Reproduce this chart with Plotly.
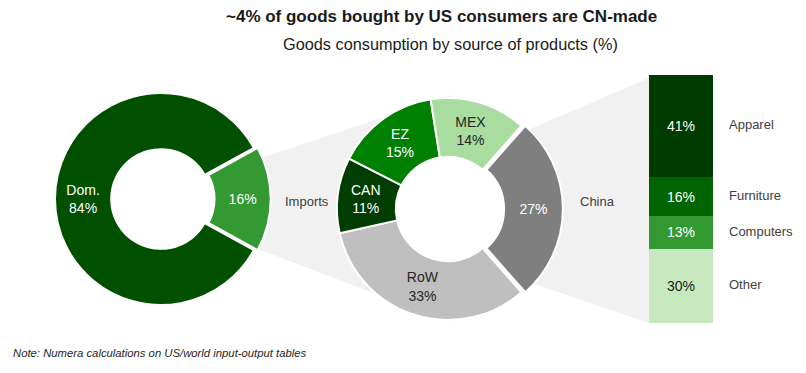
import plotly.graph_objects as go

# ---------------- data ----------------
left_labels = ["Imports", "Dom."]
left_values = [16, 84]
left_colors = ["#339933", "#005000"]
left_text_colors = ["white", "white"]

mid_labels = ["China", "RoW", "CAN", "EZ", "MEX"]
mid_values = [27, 33, 11, 15, 14]
mid_colors = ["#7f7f7f", "#bfbfbf", "#003d00", "#008000", "#a9dd9f"]
mid_text_colors = ["white", "#262626", "white", "white", "#262626"]

bar_labels = ["Apparel", "Furniture", "Computers", "Other"]  # top to bottom
bar_values = [41, 16, 13, 30]
bar_colors = ["#003c00", "#006400", "#339933", "#c8e8c0"]
bar_text_colors = ["white", "white", "white", "#1a1a1a"]

outside_labels = ["Imports", "China"]

title = "~4% of goods bought by US consumers are CN-made"
subtitle = "Goods consumption by source of products (%)"
note = "Note: Numera calculations on US/world input-output tables"

# ---------------- layout helpers ----------------
W, H = 806, 373
FONT = "Liberation Sans, Arial, sans-serif"


def px(x):
    return x / W


def py(y):
    return 1 - y / H


def dom(cx, cy, half):
    return dict(x=[px(cx - half), px(cx + half)], y=[py(cy + half), py(cy - half)])


PULL = 0.035
HOLE = 0.47


def pie_text(labels, values):
    return [f"{v}%" if lab in outside_labels else f"{lab}<br>{v}%" for lab, v in zip(labels, values)]


def rotation_center_right(values):
    # first slice centred at 3 o'clock
    return 90 - values[0] / sum(values) * 360 / 2


fig = go.Figure()

# left donut
LCX, LCY, LR = 161, 199, 106
fig.add_trace(go.Pie(
    labels=left_labels, values=left_values, sort=False, direction="clockwise",
    rotation=rotation_center_right(left_values), hole=HOLE,
    pull=[PULL if l in outside_labels else 0 for l in left_labels],
    marker=dict(colors=left_colors, line=dict(color="white", width=2)),
    text=pie_text(left_labels, left_values), textinfo="text", textposition="inside",
    insidetextorientation="horizontal",
    textfont=dict(family=FONT, size=14, color=left_text_colors),
    domain=dom(LCX, LCY, LR * (1 + PULL)), hoverinfo="skip", showlegend=False,
))

# middle donut
MCX, MCY, MR = 448, 209, 111
fig.add_trace(go.Pie(
    labels=mid_labels, values=mid_values, sort=False, direction="clockwise",
    rotation=rotation_center_right(mid_values), hole=HOLE,
    pull=[PULL if l in outside_labels else 0 for l in mid_labels],
    marker=dict(colors=mid_colors, line=dict(color="white", width=2)),
    text=pie_text(mid_labels, mid_values), textinfo="text", textposition="inside",
    insidetextorientation="horizontal",
    textfont=dict(family=FONT, size=14, color=mid_text_colors),
    domain=dom(MCX, MCY, MR * (1 + PULL)), hoverinfo="skip", showlegend=False,
))

# stacked bar (bottom to top)
for lab, v, c, tc in reversed(list(zip(bar_labels, bar_values, bar_colors, bar_text_colors))):
    fig.add_trace(go.Bar(
        x=[0], y=[v], width=1, name=lab, marker=dict(color=c, line=dict(width=0)),
        text=[f"{v}%"], textposition="inside", insidetextanchor="middle", textangle=0,
        textfont=dict(family=FONT, size=14, color=tc), hoverinfo="skip", showlegend=False,
        xaxis="x", yaxis="y",
    ))

BX0, BX1, BY0, BY1 = 649, 713, 75, 323
fig.update_layout(
    barmode="stack",
    xaxis=dict(domain=[px(BX0), px(BX1)], range=[-0.5, 0.5], visible=False, fixedrange=True),
    yaxis=dict(domain=[py(BY1), py(BY0)], range=[0, sum(bar_values)], visible=False, fixedrange=True),
)

annotations = []
# bar category labels
cum = 0
for lab, v in reversed(list(zip(bar_labels, bar_values))):
    annotations.append(dict(
        x=0.5, y=cum + v / 2, xref="x", yref="y", text=lab, showarrow=False,
        xanchor="left", yanchor="middle", xshift=14, yshift=1,
        font=dict(family=FONT, size=13, color="#404040"),
    ))
    cum += v

# outside labels for pulled slices
annotations.append(dict(x=px(LCX + LR + 16), y=py(201), xref="paper", yref="paper", text="Imports",
                        showarrow=False, xanchor="left", yanchor="middle",
                        font=dict(family=FONT, size=13, color="#404040")))
annotations.append(dict(x=px(MCX + MR + 19), y=py(201), xref="paper", yref="paper", text="China",
                        showarrow=False, xanchor="left", yanchor="middle",
                        font=dict(family=FONT, size=13, color="#404040")))

# titles
annotations.append(dict(x=px(441), y=py(16), xref="paper", yref="paper", text=f"<b>{title}</b>",
                        showarrow=False, xanchor="center", yanchor="middle",
                        font=dict(family=FONT, size=17, color="#1a1a1a")))
annotations.append(dict(x=px(450), y=py(44), xref="paper", yref="paper", text=subtitle,
                        showarrow=False, xanchor="center", yanchor="middle",
                        font=dict(family=FONT, size=16.3, color="#1a1a1a")))
annotations.append(dict(x=px(11), y=py(353), xref="paper", yref="paper", text=f"<i>{note}</i>",
                        showarrow=False, xanchor="left", yanchor="middle",
                        font=dict(family=FONT, size=11.3, color="#262626")))


def poly(points):
    return "M " + " L ".join(f"{px(x):.5f},{py(y):.5f}" for x, y in points) + " Z"


hole_r = MR * HOLE
shapes = [
    dict(type="path", xref="paper", yref="paper", layer="below",
         path=poly([(255, 160), (450, 95), (450, 322), (255, 248)]),
         fillcolor="#f1f1f1", line=dict(width=0)),
    dict(type="path", xref="paper", yref="paper", layer="below",
         path=poly([(528, 130), (649, 78), (649, 323), (534, 284)]),
         fillcolor="#f1f1f1", line=dict(width=0)),
    # keep the middle donut hole white over the connector band
    dict(type="circle", xref="paper", yref="paper", layer="below",
         x0=px(MCX - hole_r), x1=px(MCX + hole_r), y0=py(MCY + hole_r), y1=py(MCY - hole_r),
         fillcolor="white", line=dict(width=0)),
]

fig.update_layout(
    width=W, height=H, margin=dict(l=0, r=0, t=0, b=0),
    paper_bgcolor="white", plot_bgcolor="rgba(0,0,0,0)",
    annotations=annotations, shapes=shapes, showlegend=False,
    font=dict(family=FONT),
)

fig.write_html("out.html", config={"displayModeBar": False},
               post_script="document.body.style.margin='0';")
